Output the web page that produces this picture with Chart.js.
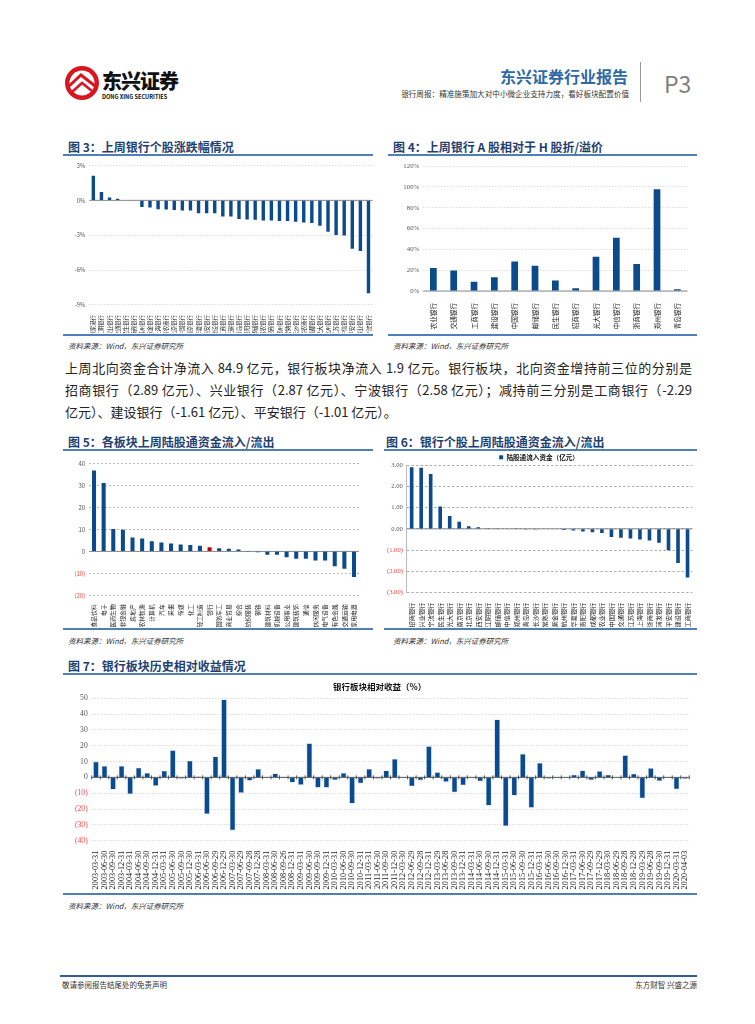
<!DOCTYPE html>
<html>
<head>
<meta charset="utf-8">
<script src="https://cdn.jsdelivr.net/npm/chart.js@4/dist/chart.umd.min.js"></script>
<style>
body{margin:0;width:755px;height:1024px;background:#fff;position:relative;font-family:"Noto Sans CJK SC","Noto Sans",sans-serif;color:#222;overflow:hidden}
.abs{position:absolute}
.ttl{position:absolute;font-size:12px;font-weight:bold;color:#1f3f6f;white-space:nowrap}
.rule{position:absolute;height:2px;background:#4f7fb8}
.src{position:absolute;font-size:7.5px;font-style:italic;color:#333;white-space:nowrap}
.box{position:absolute}
.para{position:absolute;left:65px;width:627px;font-size:13px;white-space:nowrap}
.just{text-align:justify;text-align-last:justify;white-space:normal}
</style>
</head>
<body>
<!-- header -->
<svg class="abs" style="left:64px;top:65px" width="36" height="36" viewBox="0 0 36 36">
  <circle cx="18" cy="18" r="17" fill="#d9161f"/>
  <circle cx="18" cy="18" r="12.5" fill="#fff"/>
  <path d="M4 22 L17 10 L31 21" stroke="#d9161f" stroke-width="3" fill="none"/>
  <path d="M8 27 L18 18 L28 26" stroke="#d9161f" stroke-width="2.5" fill="none"/>
</svg>
<div class="abs" style="left:102px;top:66px;font-size:20px;font-weight:900;letter-spacing:-1px;color:#111">东兴证券</div>
<div class="abs" style="left:102px;top:93px;font-size:5.6px;font-weight:bold;color:#111">DONG XING SECURITIES</div>
<div class="abs" style="right:127px;top:64px;font-size:16px;font-weight:bold;color:#2f6aa7">东兴证券行业报告</div>
<div class="abs" style="right:126px;top:88px;font-size:7.6px;color:#333">银行周报：精准施策加大对中小微企业支持力度，看好板块配置价值</div>
<div class="abs" style="left:640px;top:62px;width:1px;height:40px;background:#999"></div>
<div class="abs" style="left:664px;top:66px;font-size:23px;color:#7f7f7f">P3</div>

<!-- fig 3 / 4 -->
<div class="ttl" style="left:68px;top:138px">图 3：上周银行个股涨跌幅情况</div>
<div class="rule" style="left:63px;top:154px;width:310px"></div>
<div class="box" style="left:65px;top:158px;width:312px;height:175px"><canvas id="c3"></canvas></div>
<div class="rule" style="left:63px;top:334px;width:310px"></div>
<div class="src" style="left:68px;top:340px">资料来源：Wind，东兴证券研究所</div>

<div class="ttl" style="left:393px;top:138px">图 4：上周银行 A 股相对于 H 股折/溢价</div>
<div class="rule" style="left:388px;top:154px;width:309px"></div>
<div class="box" style="left:390px;top:158px;width:300px;height:175px"><canvas id="c4"></canvas></div>
<div class="rule" style="left:388px;top:334px;width:309px"></div>
<div class="src" style="left:393px;top:340px">资料来源：Wind，东兴证券研究所</div>

<div class="para just" style="top:358px">上周北向资金合计净流入 84.9 亿元，银行板块净流入 1.9 亿元。银行板块，北向资金增持前三位的分别是</div>
<div class="para just" style="top:380px">招商银行（2.89 亿元）、兴业银行（2.87 亿元）、宁波银行（2.58 亿元）；减持前三分别是工商银行（-2.29</div>
<div class="para" style="top:402px">亿元）、建设银行（-1.61 亿元）、平安银行（-1.01 亿元）。</div>

<!-- fig 5 / 6 -->
<div class="ttl" style="left:68px;top:433px">图 5：各板块上周陆股通资金流入/流出</div>
<div class="rule" style="left:63px;top:449px;width:310px"></div>
<div class="box" style="left:65px;top:455px;width:297px;height:172px"><canvas id="c5"></canvas></div>
<div class="rule" style="left:63px;top:628px;width:310px"></div>
<div class="src" style="left:68px;top:635px">资料来源：Wind，东兴证券研究所</div>

<div class="ttl" style="left:386px;top:433px">图 6：银行个股上周陆股通资金流入/流出</div>
<div class="rule" style="left:384px;top:449px;width:313px"></div>
<div class="box" style="left:383px;top:450px;width:314px;height:177px"><canvas id="c6"></canvas></div>
<div class="rule" style="left:384px;top:628px;width:313px"></div>
<div class="src" style="left:393px;top:635px">资料来源：Wind，东兴证券研究所</div>

<!-- fig 7 -->
<div class="ttl" style="left:68px;top:657px">图 7：银行板块历史相对收益情况</div>
<div class="rule" style="left:63px;top:673px;width:634px"></div>
<div class="box" style="left:65px;top:677px;width:632px;height:216px"><canvas id="c7"></canvas></div>
<div class="rule" style="left:63px;top:893px;width:634px"></div>
<div class="src" style="left:68px;top:900px">资料来源：Wind，东兴证券研究所</div>

<!-- footer -->
<div class="abs" style="left:60px;top:975px;width:637px;height:2px;background:#2e5d9c"></div>
<div class="abs" style="left:62px;top:979px;font-size:7.5px;color:#333">敬请参阅报告结尾处的免责声明</div>
<div class="abs" style="right:58px;top:979px;font-size:7.5px;color:#333">东方财智 兴盛之源</div>

<script>
// 图3 上周银行个股涨跌幅 (%)
const banks3=['张家港行','江阴银行','农业银行','交通银行','民生银行','浙商银行','苏州银行','紫金银行','上海银行','青农商行','北京银行','中国银行','南京银行','华夏银行','西安银行','建设银行','工商银行','无锡银行','青岛银行','贵阳银行','邮储银行','苏农银行','招商银行','郑州银行','常熟银行','长沙银行','渝农商行','成都银行','光大银行','杭州银行','江苏银行','中信银行','平安银行','兴业银行','宁波银行'];
const chg3=[2.12,0.71,0.25,0.14,0,0,-0.57,-0.62,-0.76,-0.79,-0.82,-0.88,-0.88,-1.1,-1.1,-1.1,-1.39,-1.39,-1.61,-1.64,-1.67,-1.73,-1.73,-1.78,-1.78,-1.84,-1.9,-1.95,-2.18,-2.69,-2.97,-3.03,-4.16,-4.36,-8.0];

// 图4 A股相对H股折溢价 (%)
const banks4=['农业银行','交通银行','工商银行','建设银行','中国银行','邮储银行','民生银行','招商银行','光大银行','中信银行','浙商银行','郑州银行','青岛银行'];
const prem4=[22,19.8,8.9,13.1,28.4,24.3,10.2,2.6,32.9,51.1,25.9,97.8,1.6];

// 图5 各板块陆股通资金 (亿元)
const sectors5=['食品饮料','电子','医药生物','非银金融','房地产','农林牧渔','计算机','汽车','采掘','传媒','化工','轻工制造','银行','国防军工','商业贸易','综合','纺织服装','钢铁','建筑材料','机械设备','公用事业','建筑装饰','通信','休闲服务','电气设备','有色金属','交通运输','家用电器'];
const flow5=[36.9,31.2,10.2,9.9,6.4,5.9,4.6,4.1,3.6,3.2,2.9,2.6,1.9,1.5,1.2,0.9,0.1,-0.4,-1.5,-1.5,-2.6,-3.3,-3.3,-4.1,-4.1,-6.8,-7.9,-11.7];

// 图6 银行个股陆股通资金 (亿元)
const banks6=['招商银行','兴业银行','宁波银行','民生银行','光大银行','南京银行','北京银行','西安银行','江阴银行','邮储银行','中信银行','郑州银行','青岛银行','长沙银行','常熟银行','紫金银行','杭州银行','华夏银行','贵阳银行','成都银行','农业银行','中国银行','交通银行','江苏银行','上海银行','浙商银行','浦发银行','平安银行','建设银行','工商银行'];
const flow6=[2.89,2.87,2.58,1.05,0.6,0.33,0.12,0.07,0.03,0.03,0.02,0.01,-0.01,-0.01,-0.02,-0.02,-0.05,-0.08,-0.12,-0.16,-0.19,-0.38,-0.42,-0.45,-0.5,-0.55,-0.65,-1.01,-1.61,-2.29];

// 图7 银行板块相对收益 (%)
const dates7=['2003-03-31','2003-06-30','2003-09-30','2003-12-31','2004-03-31','2004-06-30','2004-09-30','2004-12-31','2005-03-31','2005-06-30','2005-09-30','2005-12-30','2006-03-31','2006-06-30','2006-09-29','2006-12-29','2007-03-30','2007-06-29','2007-09-28','2007-12-28','2008-03-31','2008-06-30','2008-09-26','2008-12-31','2009-03-31','2009-06-30','2009-09-30','2009-12-31','2010-03-31','2010-06-30','2010-09-30','2010-12-31','2011-03-31','2011-06-30','2011-09-30','2011-12-30','2012-03-30','2012-06-29','2012-09-28','2012-12-31','2013-03-29','2013-06-28','2013-09-30','2013-12-31','2014-03-31','2014-06-30','2014-09-30','2014-12-31','2015-03-31','2015-06-30','2015-09-30','2015-12-31','2016-03-31','2016-06-30','2016-09-30','2016-12-30','2017-03-31','2017-06-30','2017-09-29','2017-12-29','2018-03-30','2018-06-29','2018-09-28','2018-12-28','2019-03-29','2019-06-28','2019-09-30','2019-12-31','2020-03-31','2020-04-03'];
const rel7=[10.0,7.3,-7.7,7.3,-10.5,6.1,2.9,-5.4,4.2,17.2,-0.8,10.5,0.6,-23.2,13.2,49.2,-33.5,-9.8,-2.1,5.4,-0.4,2.5,-0.6,-3.3,-4.8,21.5,-6.5,-6.5,-1.7,2.9,-16.5,-3.8,5.4,-0.8,4.4,11.7,0.2,-5.6,-1.9,19.7,3.3,-2.9,-9.4,-5.0,0.3,-2.5,-17.8,36.6,-30.8,-11.5,14.9,-19.2,9.2,-0.8,-0.2,-0.3,1.7,4.4,-1.7,4.0,1.7,0.1,14.0,2.3,-13.2,5.9,-2.3,0.1,-7.5,-1.0];

const BLUE='#0b4a8b', RED='#f04646';
const SANS='"Noto Sans CJK SC","Noto Sans",sans-serif';
const SERIF='"Liberation Serif","DejaVu Serif",serif';
Chart.defaults.font.family=SANS;
Chart.defaults.animation=false;

// zero line (and little category ticks on it for fig 7)
const zeroLine={id:'zeroLine',beforeDatasetsDraw(c,a,o){
  if(!o.color)return;
  const y=c.scales.y.getPixelForValue(0), ctx=c.ctx, ca=c.chartArea;
  ctx.save();ctx.strokeStyle=o.color;ctx.lineWidth=o.width||1;
  ctx.beginPath();ctx.moveTo(ca.left,y);ctx.lineTo(ca.right,y);
  if(o.ticks){
    const n=c.data.labels.length;
    for(let i=0;i<=n;i++){const px=ca.left+(ca.right-ca.left)*i/n;ctx.moveTo(px,y-2);ctx.lineTo(px,y+2);}
  }
  ctx.stroke();ctx.restore();
}};
Chart.register(zeroLine);

const paren=(v,d)=>v<0?'('+(-v).toFixed(d)+')':v.toFixed(d);
const negRed=c=>c.tick.value<0?RED:'#555';

function opts(o){
  return {
    responsive:true,maintainAspectRatio:false,
    layout:{padding:o.pad},
    plugins:{legend:{display:false},tooltip:{enabled:false},zeroLine:o.zero||{}},
    scales:{
      x:{grid:{display:false},border:{display:false},
        afterFit:s=>{s.height=o.xh},
        ticks:{autoSkip:false,minRotation:90,maxRotation:90,padding:o.xpad||2,color:'#222',font:{size:o.xf,family:o.xfam||SANS}}},
      y:{min:o.min,max:o.max,
        afterFit:s=>{s.width=o.yw},
        grid:{color:o.gc||'#d4d4d4',drawTicks:false,lineWidth:0.8},
        border:{display:!!o.yb,color:'#bbb',dash:o.dash||[1.5,1.5]},
        ticks:{stepSize:o.step,padding:4,callback:o.fmt,color:o.tc||'#555',font:{size:o.yf,family:o.yfam||SANS}}}
    }
  };
}

new Chart(document.getElementById('c3'),{type:'bar',
  data:{labels:banks3,datasets:[{data:chg3,backgroundColor:BLUE,barPercentage:0.42,categoryPercentage:1}]},
  options:opts({pad:{top:6,right:3},xh:28,xf:5.4,yw:24.3,min:-9,max:3,step:3,yf:5.8,fmt:v=>v+'%',zero:{color:'#8a8a8a'}})});

new Chart(document.getElementById('c4'),{type:'bar',
  data:{labels:banks4,datasets:[{data:prem4,backgroundColor:BLUE,barPercentage:0.33,categoryPercentage:1}]},
  options:opts({pad:{top:7.7,right:2.5},xh:42,xf:6.6,xpad:4,yw:33.2,min:0,max:120,step:20,yf:6.8,yfam:SERIF,fmt:v=>v+'%',zero:{color:'#8a8a8a'}})});

new Chart(document.getElementById('c5'),{type:'bar',
  data:{labels:sectors5,datasets:[{data:flow5,backgroundColor:sectors5.map(s=>s==='银行'?'#c00000':BLUE),barPercentage:0.42,categoryPercentage:1}]},
  options:opts({pad:{top:8.7,right:2.2},xh:31.7,xf:5.8,xpad:1,yw:24.2,min:-20,max:40,step:10,yf:6,fmt:v=>paren(v,0),tc:negRed,gc:'#aaaaaa',dash:[2,2],zero:{color:'#8a8a8a'}})});

const o6=opts({pad:{top:0,right:1.9},xh:34.3,xf:6.2,yw:23.9,min:-3,max:3,step:1,yf:6.6,yfam:SERIF,fmt:v=>paren(v,2),tc:negRed,gc:'#9a9a9a',dash:[2.5,2],yb:true,zero:{color:'#8a8a8a'}});
o6.plugins.legend={display:true,position:'top',labels:{boxWidth:4,boxHeight:4,padding:4,color:'#111',font:{size:6.6,weight:'bold'}}};
new Chart(document.getElementById('c6'),{type:'bar',
  data:{labels:banks6,datasets:[{label:'陆股通流入资金（亿元）',data:flow6,backgroundColor:BLUE,barPercentage:0.38,categoryPercentage:1}]},
  options:o6,
  plugins:[{id:'legendH',beforeInit(c){const f=c.legend.fit;c.legend.fit=function(){f.call(this);this.height=15;}}}]});

const o7=opts({pad:{top:0,right:2.7},xh:52.3,xf:8.3,xfam:SERIF,xpad:2,yw:26.7,min:-40,max:50,step:10,yf:7.6,yfam:SERIF,fmt:v=>paren(v,0),tc:negRed,gc:'#d0d0d0',zero:{color:'#555',ticks:true}});
o7.plugins.title={display:true,text:'银行板块相对收益（%）',color:'#111',font:{size:8.5,weight:'bold'},padding:{top:5,bottom:6}};
new Chart(document.getElementById('c7'),{type:'bar',
  data:{labels:dates7,datasets:[{data:rel7,backgroundColor:'#0a4a8e',borderColor:'#a8c2e0',borderWidth:0.6,barPercentage:0.66,categoryPercentage:1}]},
  options:o7});
</script>
</body>
</html>
